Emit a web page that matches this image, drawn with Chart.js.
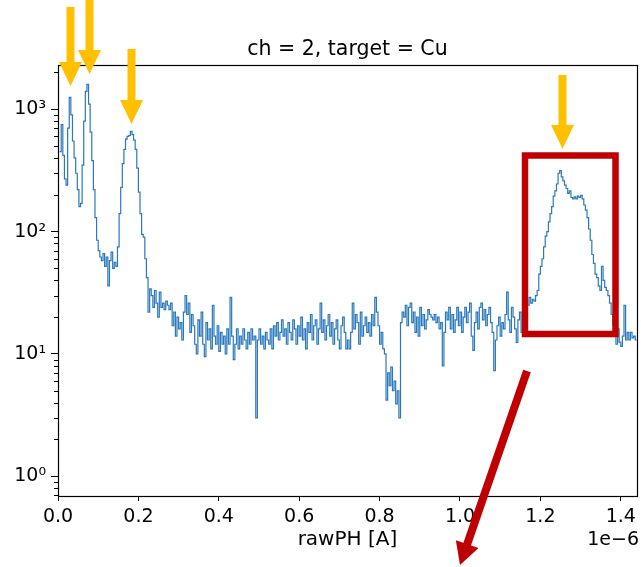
<!DOCTYPE html>
<html>
<head>
<meta charset="utf-8">
<script src="https://cdn.jsdelivr.net/npm/chart.js@4.4.1/dist/chart.umd.min.js"></script>
<style>
  html, body { margin: 0; padding: 0; background: #fff; }
  #wrap { width: 641px; height: 567px; }
</style>
</head>
<body>
<div id="wrap"><canvas id="ph-chart" width="641" height="567"></canvas></div>
<script>
// rawPH histogram, ch = 2, Cu target (bin width 4 nA, log counts)
const BIN_WIDTH = 4e-9;
const X_MAX = 1.44e-6;

const counts = [
  0, 450, 750, 420, 270, 240, 700, 1250, 900, 550,
  400, 300, 220, 160, 170, 350, 800, 1400, 1600, 1100,
  650, 380, 220, 130, 85, 70, 62, 58, 66, 52,
  62, 36, 58, 68, 50, 56, 52, 75, 140, 230,
  360, 470, 570, 600, 610, 660, 620, 560, 470, 330,
  210, 140, 95, 90, 60, 42, 22, 34, 30, 24,
  33, 26, 20, 32, 24, 26, 23, 27, 25, 23,
  26, 17, 22, 14, 20, 16, 18, 13, 22, 30,
  21, 26, 15, 21, 17, 12, 10, 19, 14, 22,
  12, 9.5, 18, 13, 16, 11, 25, 14, 12, 17,
  10.5, 15, 12, 14, 10, 16, 12, 29, 14, 9,
  12, 16, 11, 14, 12, 16, 13, 11, 15, 12,
  16, 13, 14, 3, 13, 16, 12, 14, 11, 15,
  13, 12, 16, 11, 17, 14, 18, 13, 15, 19,
  14, 16, 12, 18, 15, 13, 19, 16, 12, 17,
  14, 20, 13, 16, 11, 18, 15, 21, 13, 17,
  19, 12, 16, 26, 15, 19, 13, 17, 21, 14,
  18, 12, 16, 19, 13, 11, 17, 20, 15, 11,
  13, 11, 15, 26, 16, 21, 18, 12, 22, 14,
  17, 20, 15, 18, 14, 21, 17, 29, 22, 17,
  12, 15, 11, 10, 4.2, 7, 5.5, 7.8, 5, 6,
  3.9, 5, 3, 18, 22, 20, 25, 17, 24, 26,
  18, 22, 15, 20, 14, 24, 17, 21, 16, 19,
  23, 21, 20, 19, 21, 18, 20, 16, 18, 8,
  15, 22, 19, 24, 16, 21, 15, 19, 24, 17,
  22, 15, 20, 24, 18, 22, 26, 14, 10.7, 18,
  22, 16, 24, 26, 19, 23, 17, 21, 24, 18,
  15, 7.3, 13, 17, 20, 14, 18, 16, 21, 32,
  19, 15, 24, 20, 16, 12.4, 19, 22, 15, 26,
  17, 27, 25, 29, 26, 28, 27, 30, 33, 45,
  52, 60, 75, 92, 100, 120, 140, 160, 195, 215,
  245, 300, 315, 280, 260, 240, 225, 205, 215, 190,
  185, 192, 185, 195, 190, 198, 185, 165, 150, 130,
  105, 85, 65, 55, 45, 42, 36, 33, 52, 40,
  35, 33, 30, 26, 21, 17, 14, 12, 16, 12.5,
  11.5, 14, 25, 13, 15, 13, 15, 13.5, 14, 13
];

const xTicks = [0, 0.2e-6, 0.4e-6, 0.6e-6, 0.8e-6, 1.0e-6, 1.2e-6, 1.4e-6];
const yMajor = [1, 10, 100, 1000];
const yLabels = ['10⁰', '10¹', '10²', '10³'];

// step points at left bin edges, closing point at the last edge
const points = counts.map((c, i) => ({ x: i * BIN_WIDTH, y: c }));
points.push({ x: X_MAX, y: counts[counts.length - 1] });

// highlight overlay (canvas pixels)
const peakArrows = [
  { x: 70.5, top: 7, tip: 86 },
  { x: 89.5, top: -2, tip: 74 },
  { x: 131.5, top: 49, tip: 124 },
  { x: 562.5, top: 75, tip: 149 }
];
const regionBox = { left: 525, top: 155.5, right: 615.5, bottom: 334 };
const pointer = { x0: 527, y0: 371, x1: 460, y1: 565 };

const FONT = '"DejaVu Sans", sans-serif';

function drawArrow(ctx, x0, y0, x1, y1, shaftW, headW, headL, color) {
  const dx = x1 - x0, dy = y1 - y0;
  const len = Math.hypot(dx, dy);
  const ux = dx / len, uy = dy / len;
  const bx = x1 - ux * headL, by = y1 - uy * headL;
  ctx.strokeStyle = color;
  ctx.fillStyle = color;
  ctx.lineWidth = shaftW;
  ctx.lineCap = 'butt';
  ctx.beginPath();
  ctx.moveTo(x0, y0);
  ctx.lineTo(bx + ux, by + uy);
  ctx.stroke();
  ctx.beginPath();
  ctx.moveTo(x1, y1);
  ctx.lineTo(bx - uy * headW / 2, by + ux * headW / 2);
  ctx.lineTo(bx + uy * headW / 2, by - ux * headW / 2);
  ctx.closePath();
  ctx.fill();
}

const overlayPlugin = {
  id: 'overlay',
  afterDraw(chart) {
    const { ctx, chartArea: a } = chart;
    const yScale = chart.scales.y;
    ctx.save();

    // frame around the axes
    ctx.strokeStyle = '#000';
    ctx.lineWidth = 1.2;
    ctx.strokeRect(Math.round(a.left) + 0.5, Math.round(a.top) + 0.5,
      Math.round(a.right - a.left), Math.round(a.bottom - a.top));

    // minor log ticks
    ctx.lineWidth = 1;
    ctx.beginPath();
    for (let k = -1; k <= 3; k++) {
      for (let m = 2; m <= 9; m++) {
        const v = m * Math.pow(10, k);
        if (v < yScale.min || v > yScale.max) continue;
        const py = Math.round(yScale.getPixelForValue(v)) + 0.5;
        ctx.moveTo(a.left - 4, py);
        ctx.lineTo(a.left, py);
      }
    }
    ctx.stroke();

    // title and offset text
    ctx.fillStyle = '#000';
    ctx.textBaseline = 'middle';
    ctx.textAlign = 'center';
    ctx.font = '20.5px ' + FONT;
    ctx.fillText('ch = 2, target = Cu', (a.left + a.right) / 2, 50);
    ctx.textAlign = 'right';
    ctx.font = '19px ' + FONT;
    ctx.fillText('1e\u22126', 639, 540);

    // highlights
    peakArrows.forEach(p => drawArrow(ctx, p.x, p.top, p.x, p.tip, 8, 23, 24, '#FFC000'));
    ctx.strokeStyle = '#C00000';
    ctx.lineWidth = 6.5;
    ctx.lineJoin = 'miter';
    ctx.strokeRect(regionBox.left, regionBox.top,
      regionBox.right - regionBox.left, regionBox.bottom - regionBox.top);
    drawArrow(ctx, pointer.x0, pointer.y0, pointer.x1, pointer.y1, 8, 24, 22, '#C00000');

    ctx.restore();
  }
};

new Chart(document.getElementById('ph-chart'), {
  type: 'line',
  data: {
    datasets: [{
      data: points,
      stepped: 'before',
      borderColor: '#2a78bd',
      borderWidth: 1.2,
      pointRadius: 0,
      fill: false
    }]
  },
  options: {
    responsive: false,
    animation: false,
    devicePixelRatio: 1,
    layout: { padding: { left: 0, right: 4, top: 65, bottom: 0 } },
    plugins: {
      legend: { display: false },
      title: { display: false },
      tooltip: { enabled: false }
    },
    scales: {
      x: {
        type: 'linear',
        min: 0,
        max: X_MAX,
        afterBuildTicks: scale => { scale.ticks = xTicks.map(v => ({ value: v })); },
        afterFit: scale => { scale.height = 71; },
        grid: { drawOnChartArea: false, drawTicks: true, tickLength: 5, tickColor: '#000' },
        border: { display: false },
        ticks: {
          color: '#000',
          padding: 5,
          maxRotation: 0,
          font: { family: FONT, size: 19 },
          callback: v => (v * 1e6).toFixed(1)
        },
        title: {
          display: true,
          text: 'rawPH [A]',
          color: '#000',
          font: { family: FONT, size: 20 },
          padding: { top: 0, bottom: 15 }
        }
      },
      y: {
        type: 'logarithmic',
        min: 0.69,
        max: 2300,
        afterBuildTicks: scale => { scale.ticks = yMajor.map(v => ({ value: v })); },
        afterFit: scale => { scale.width = 58; },
        grid: { drawOnChartArea: false, drawTicks: true, tickLength: 7, tickColor: '#000' },
        border: { display: false },
        ticks: {
          color: '#000',
          padding: 5,
          font: { family: FONT, size: 19 },
          callback: v => yLabels[yMajor.indexOf(v)] || ''
        }
      }
    }
  },
  plugins: [overlayPlugin]
});
</script>
</body>
</html>
